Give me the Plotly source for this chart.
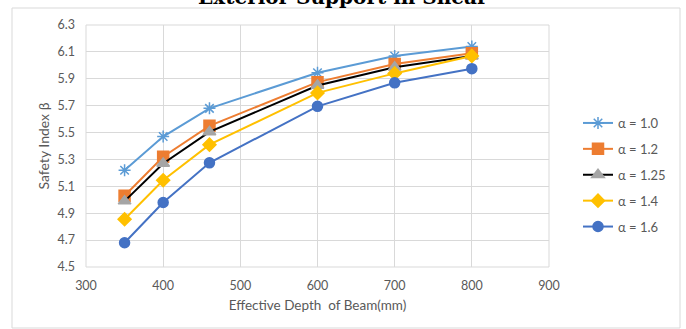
import plotly.graph_objects as go

depth = [350, 400, 460, 600, 700, 800]
series_names = ["α = 1.0", "α = 1.2", "α = 1.25", "α = 1.4", "α = 1.6"]
beta_a10 = [5.22, 5.47, 5.68, 5.945, 6.07, 6.14]
beta_a12 = [5.03, 5.32, 5.55, 5.875, 6.01, 6.09]
beta_a125 = [4.99, 5.27, 5.505, 5.85, 5.985, 6.07]
beta_a14 = [4.855, 5.145, 5.41, 5.795, 5.94, 6.07]
beta_a16 = [4.68, 4.98, 5.275, 5.695, 5.87, 5.975]
x_ticks = [300, 400, 500, 600, 700, 800, 900]
y_ticks = [4.5, 4.7, 4.9, 5.1, 5.3, 5.5, 5.7, 5.9, 6.1, 6.3]

values = [beta_a10, beta_a12, beta_a125, beta_a14, beta_a16]
line_colors = ["#5B9BD5", "#ED7D31", "#000000", "#FFC000", "#4472C4"]
marker_colors = ["#5B9BD5", "#ED7D31", "#A5A5A5", "#FFC000", "#4472C4"]
symbols = ["asterisk-open", "square", "triangle-up", "diamond", "circle"]
sizes = [10, 11, 11, 10, 10]

fig = go.Figure()
for i, (name, vals) in enumerate(zip(series_names, values)):
    fig.add_trace(go.Scatter(
        x=depth, y=vals, name=name, mode="lines+markers",
        legendgroup=f"g{i}",
        line=dict(color=line_colors[i], width=2),
        marker=dict(symbol=symbols[i], size=sizes[i], color=marker_colors[i],
                    line=dict(color=marker_colors[i], width=1.5)),
    ))

W, H = 686, 329
L, R, T, B = 86, 549, 25, 267
pw, ph = R - L, B - T

def px(x):
    return (x - L) / pw

def py(y):
    return (B - y) / ph

fig.update_layout(
    width=W, height=H,
    margin=dict(l=L, r=W - R, t=T, b=H - B),
    paper_bgcolor="white", plot_bgcolor="white",
    font=dict(family="Lato, Carlito, sans-serif", color="#595959", size=12),
    showlegend=True,
    legend=dict(x=px(578), y=py(108), xanchor="left", yanchor="top",
                font=dict(size=13, color="#595959"), tracegroupgap=6,
                bgcolor="rgba(0,0,0,0)"),
    xaxis=dict(range=[300, 900], tickvals=x_ticks, showgrid=True,
               gridcolor="#D9D9D9", gridwidth=1, zeroline=False,
               showline=False, ticks="", ticklabelstandoff=9,
               tickfont=dict(size=12.5, color="#595959"),
               title=dict(text="Effective Depth  of Beam(mm)",
                          font=dict(size=13.5, color="#595959"), standoff=9)),
    yaxis=dict(range=[4.5, 6.3], tickvals=y_ticks, tickformat=".1f",
               showgrid=True, gridcolor="#D9D9D9", gridwidth=1,
               zeroline=False, showline=False, ticks="", ticklabelstandoff=10,
               tickfont=dict(size=12.5, color="#595959"),
               title=dict(text="Safety Index β",
                          font=dict(size=14, color="#595959"), standoff=4)),
    shapes=[
        dict(type="rect", xref="paper", yref="paper",
             x0=px(12), x1=px(680), y0=py(328), y1=py(8),
             line=dict(color="#D9D9D9", width=1), layer="below"),
        dict(type="line", xref="paper", yref="paper",
             x0=0, x1=1, y0=0, y1=0, line=dict(color="#D9D9D9", width=1)),
        dict(type="line", xref="paper", yref="paper",
             x0=0, x1=1, y0=1, y1=1, line=dict(color="#D9D9D9", width=1)),
        dict(type="line", xref="paper", yref="paper",
             x0=0, x1=0, y0=0, y1=1, line=dict(color="#D9D9D9", width=1)),
        dict(type="line", xref="paper", yref="paper",
             x0=1, x1=1, y0=0, y1=1, line=dict(color="#D9D9D9", width=1)),
    ],
    annotations=[
        dict(text="<b>Exterior Support in Shear</b>", xref="paper", yref="paper",
             x=px(343), y=py(11), xanchor="center", yanchor="bottom",
             showarrow=False,
             font=dict(family="DejaVu Serif, Liberation Serif, serif",
                       size=20, color="#000000")),
    ],
)

fig.write_html("out.html")
